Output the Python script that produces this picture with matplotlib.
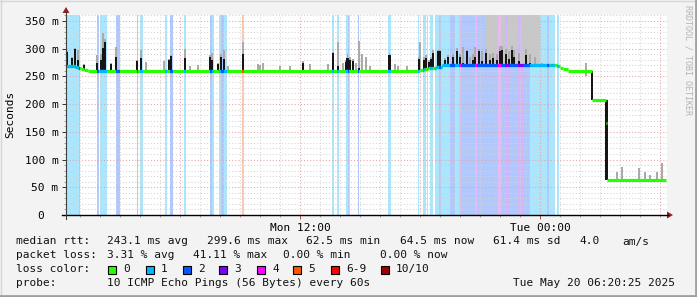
import matplotlib
matplotlib.use("Agg")
import matplotlib.pyplot as plt
from matplotlib.patches import Rectangle, Polygon
from matplotlib.lines import Line2D
import numpy as np

W, H = 697, 297
MONO = "DejaVu Sans Mono"

# median rtt, hours after Mon 00:00 -> ms (held until next point)
median_t = [0.30, 0.45, 0.60, 0.75, 0.90, 1.05, 1.20, 1.40, 18.0, 18.2, 18.4, 18.6,
            18.8, 19.1, 24.5, 24.7, 24.85, 25.0, 25.15, 25.4, 26.62, 27.30, 27.36, 30.30]
median_ms = [269, 268, 268, 267, 266, 264, 262, 260, 261, 263, 265, 266,
             267, 270, 271, 270, 268, 266, 263, 260, 207, 166, 63, 63]

# loss background bands (hours) and lost pings out of 10
loss_start = [0.30, 0.95, 1.83, 1.98, 2.80, 3.85, 3.98, 5.25, 5.50, 6.20, 7.50, 7.60,
              7.95, 8.05, 8.20, 9.10, 13.60, 13.85, 14.30, 14.40, 14.45, 14.90, 16.40,
              17.90, 18.15, 18.35, 18.50, 18.75, 18.95, 19.05, 19.50, 19.75, 19.95,
              20.05, 20.75, 20.85, 21.90, 22.05, 22.25, 22.50, 22.90, 23.15, 23.50,
              24.35, 24.45, 24.85]
loss_end = [0.95, 1.00, 1.93, 2.35, 2.98, 3.90, 4.15, 5.35, 5.65, 6.30, 7.60, 7.70,
            8.05, 8.20, 8.35, 9.20, 13.70, 13.95, 14.40, 14.45, 14.50, 14.95, 16.55,
            17.95, 18.30, 18.40, 18.65, 18.95, 19.05, 19.50, 19.75, 19.95, 20.05,
            20.75, 20.85, 21.90, 22.05, 22.25, 22.50, 22.90, 23.15, 23.50, 24.35,
            24.45, 24.75, 24.95]
loss_level = [1, 2, 2, 1, 2, 2, 1, 1, 2, 1, 2, 1,
              1, 2, 1, 5, 1, 1, 1, 2, 1, 2, 1,
              1, 1, 1, 1, 1, 2, 1, 2, 1, 4,
              2, 4, 2, 4, 2, 3, 2, 3, 2, 1,
              2, 1, 1]

# smoke spikes: time, bottom, top of dense (black) part, top of light part (ms)
spike_t = [0.35, 0.60, 0.75, 0.90, 1.20, 1.85, 2.05, 2.15, 2.25, 2.55, 2.80, 3.85,
           4.05, 4.30, 5.20, 5.45, 5.55, 6.25, 6.50, 6.90, 7.50, 7.60, 7.90, 8.05,
           8.20, 8.40, 9.15, 9.90, 10.00, 10.15, 11.00, 11.50, 12.15, 12.50, 13.40,
           13.65, 13.90, 14.15, 14.30, 14.38, 14.50, 14.65, 14.80, 14.95, 15.10,
           15.30, 15.50, 16.48, 16.75, 16.90, 17.35, 17.95, 18.00, 18.20, 18.30,
           18.45, 18.55, 18.65, 18.90, 19.00, 19.25, 19.40, 19.65, 19.85, 20.00,
           20.15, 20.35, 20.50, 20.65, 20.75, 20.95, 21.10, 21.30, 21.50, 21.65,
           21.85, 22.00, 22.10, 22.30, 22.45, 22.60, 22.70, 22.95, 23.30, 23.50,
           23.75, 24.10, 26.30, 26.60, 27.33, 27.85, 28.10, 28.95, 29.25, 29.50,
           29.85, 30.10]
spike_lo = [266, 266, 266, 264, 262, 259, 259, 259, 259, 259, 259, 259,
            259, 259, 259, 259, 259, 259, 259, 259, 259, 259, 259, 259,
            259, 259, 259, 259, 259, 259, 259, 259, 259, 259, 259,
            259, 259, 259, 259, 259, 259, 259, 259, 259, 259,
            259, 259, 259, 259, 259, 259, 259, 259, 261, 262,
            264, 265, 265, 266, 268, 269, 269, 269, 269, 269,
            269, 269, 269, 269, 269, 269, 269, 269, 269, 269,
            269, 269, 269, 269, 269, 269, 269, 269, 269, 269,
            269, 267, 250, 207, 63, 63, 63, 63, 63, 63,
            63, 63]
spike_dark = [294, 283, 300, 280, 270, 275, 280, 301, 312, 272, 285, 277,
              283, 262, 259, 279, 286, 284, 259, 259, 285, 280, 273, 285,
              282, 259, 290, 259, 259, 259, 259, 259, 275, 259, 259,
              292, 268, 259, 276, 283, 280, 278, 259, 266, 259,
              259, 259, 289, 259, 259, 259, 281, 259, 280, 283,
              276, 282, 292, 295, 295, 280, 285, 285, 296, 285,
              275, 295, 269, 280, 285, 296, 278, 292, 280, 283,
              280, 295, 297, 290, 282, 297, 285, 278, 289, 275,
              273, 267, 250, 260, 207, 63, 63, 63, 63, 63,
              63, 63]
spike_light = [296, 285, 302, 298, 272, 288, 290, 328, 318, 275, 303, 280,
               298, 276, 277, 282, 288, 300, 268, 270, 288, 292, 275, 290,
               298, 268, 312, 272, 270, 275, 268, 268, 278, 272, 272,
               294, 312, 275, 280, 291, 285, 282, 275, 314, 291,
               285, 268, 292, 272, 268, 268, 285, 312, 285, 288,
               280, 285, 298, 298, 297, 283, 288, 290, 302, 290,
               303, 298, 285, 290, 303, 300, 295, 300, 290, 292,
               290, 305, 305, 300, 295, 305, 298, 292, 300, 290,
               285, 275, 275, 260, 207, 77, 87, 85, 77, 72,
               77, 94]

# stretches where the light smoke runs off the top of the graph
tall_start = [21.25, 22.05, 22.40, 23.05]
tall_end = [21.90, 22.25, 22.85, 24.00]
tall_lo = 272

xtick_pos = [12, 24]
xtick_labels = ["Mon 12:00", "Tue 00:00"]
ytick_pos = [0, 50, 100, 150, 200, 250, 300, 350]
ytick_labels = ["0\u00a0\u00a0", "50 m", "100 m", "150 m", "200 m", "250 m", "300 m", "350 m"]

loss_keys = ["0", "1", "2", "3", "4", "5", "6-9", "10/10"]
loss_line_colors = ["#26ff00", "#00b8ff", "#0059ff", "#7e00ff", "#ff00ff", "#ff5500",
                    "#ff0000", "#a10000"]
loss_bg = {1: "#aae6fd", 2: "#b0c8fc", 3: "#d2b6fb", 4: "#ecb6f6", 5: "#ffc8ae"}

median_stats = ["243.1 ms avg", "299.6 ms max", "62.5 ms min", "64.5 ms now",
                "61.4 ms sd", "4.0", "am/s"]
loss_stats = ["3.31 % avg", "41.11 % max", "0.00 % min", "0.00 % now"]
probe_text = "10 ICMP Echo Pings (56 Bytes) every 60s"
stamp_text = "Tue May 20 06:20:25 2025"


def fx(x):
    return x / W


def fy(y):
    return 1 - y / H


fig = plt.figure(figsize=(W / 100, H / 100), dpi=100, facecolor="#f3f3f3")
ax = fig.add_axes([fx(66), fy(215), 601 / W, 200 / H])
ax.set_facecolor("white")
XMIN, XMAX, YMAX = 0.30, 30.35, 360.8
ax.set_xlim(XMIN, XMAX)
ax.set_ylim(0, YMAX)
for s in ax.spines.values():
    s.set_visible(False)

# loss bands
for s, e, l in zip(loss_start, loss_end, loss_level):
    ax.axvspan(s, e, color=loss_bg[l], lw=0, zorder=1)

# grid (over the bands, under the smoke)
gkw = dict(lw=0.75, ls=(0, (1, 2)), zorder=1.5)
for v in range(10, 361, 10):
    ax.axhline(v, color="#e6a4a4" if v % 50 == 0 else "#d4d4d4", **gkw)
for h in range(1, 31):
    ax.axvline(h, color="#e6a4a4" if h % 6 == 0 else "#d4d4d4", **gkw)

# smoke
px_h = (XMAX - XMIN) / 601
for s, e in zip(tall_start, tall_end):
    ax.fill_between([s, e], tall_lo, YMAX, color="#c8c8c8", lw=0, zorder=2)
st = np.array(spike_t)
lo = np.array(spike_lo)
ax.bar(st, np.array(spike_light) - lo, bottom=lo, width=px_h * 1.5,
       color="#aaaaaa", lw=0, zorder=2.1)
ax.bar(st, np.array(spike_dark) - lo, bottom=lo, width=px_h * 2.4,
       color="#151515", lw=0, zorder=2.2)

# median line, coloured by loss; no vertical connectors
seg_l = median_t[:-1]
seg_r = median_t[1:]
seg_v = median_ms[:-1]
ax.hlines(seg_v, seg_l, seg_r, color=loss_line_colors[0], lw=2.3, zorder=3)
for s, e, l in zip(loss_start, loss_end, loss_level):
    lc = ax.hlines(seg_v, seg_l, seg_r, color=loss_line_colors[l], lw=2.3, zorder=3.1)
    lc.set_clip_path(Rectangle((s, 0), e - s, 1, transform=ax.get_xaxis_transform()))

# ticks
ax.set_xticks(xtick_pos)
ax.set_xticklabels(xtick_labels, family=MONO, fontsize=8)
ax.set_xticks(range(1, 31), minor=True)
ax.set_yticks(ytick_pos)
ax.set_yticklabels(ytick_labels, family=MONO, fontsize=8)
ax.set_yticks(range(10, 361, 10), minor=True)
ax.tick_params(axis="x", which="major", length=3, pad=2.5, color="#b05050", width=0.7)
ax.tick_params(axis="x", which="minor", length=1.5, color="#a0a0a0", width=0.7)
ax.tick_params(axis="y", which="major", length=3, pad=2.5, color="#333333", width=0.7)
ax.tick_params(axis="y", which="minor", length=1.5, color="#a0a0a0", width=0.7)

# axes lines and arrows
fig.add_artist(Line2D([fx(62), fx(668)], [fy(215), fy(215)], color="black", lw=1.0))
fig.add_artist(Line2D([fx(66), fx(66)], [fy(219), fy(12)], color="#404040", lw=0.8))
fig.add_artist(Polygon([(fx(667), fy(211.5)), (fx(667), fy(218.5)), (fx(673), fy(215))],
                       closed=True, color="#9b1c1c", lw=0))
fig.add_artist(Polygon([(fx(62.5), fy(13)), (fx(69.5), fy(13)), (fx(66), fy(7))],
                       closed=True, color="#9b1c1c", lw=0))

fig.text(fx(10), fy(114), "Seconds", rotation=90, ha="center", va="center",
         family=MONO, fontsize=8)
fig.text(fx(688), fy(60), "RRDTOOL / TOBI OETIKER", rotation=270, ha="center",
         va="center", family=MONO, fontsize=6, color="#b4b4b4")

# legend block
tkw = dict(family=MONO, fontsize=8, va="center", color="#111111")
y1, y2, y3, y4 = 241.5, 255, 269, 283
fig.text(fx(16), fy(y1), "median rtt:", **tkw)
for x, s in zip([107, 207, 306, 400, 493, 579, 622], median_stats):
    fig.text(fx(x), fy(y1), s, **tkw)
fig.text(fx(16), fy(y2), "packet loss:", **tkw)
for x, s in zip([107, 193, 283, 380], loss_stats):
    fig.text(fx(x), fy(y2), s, **tkw)
fig.text(fx(16), fy(y3), "loss color:", **tkw)
for x, k, c in zip([108, 146, 183, 219, 257, 293, 331, 381], loss_keys, loss_line_colors):
    fig.add_artist(Rectangle((fx(x), fy(y3 + 4.5)), 8 / W, 8 / H, facecolor=c,
                             edgecolor="black", lw=0.8))
    fig.text(fx(x + 15), fy(y3), k, **tkw)
fig.text(fx(16), fy(y4), "probe:", **tkw)
fig.text(fx(107), fy(y4), probe_text, **tkw)
fig.text(fx(513), fy(y4), stamp_text, **tkw)

# frame
fig.add_artist(Line2D([0, 1], [fy(0.5), fy(0.5)], color="#d6d6d6", lw=1))
fig.add_artist(Line2D([fx(0.5), fx(0.5)], [0, 1], color="#d6d6d6", lw=1))
fig.add_artist(Line2D([0, 1], [fy(296), fy(296)], color="#a0a0a0", lw=2))
fig.add_artist(Line2D([fx(696), fx(696)], [0, 1], color="#a0a0a0", lw=2))

fig.savefig("out.png", dpi=100, facecolor=fig.get_facecolor())
